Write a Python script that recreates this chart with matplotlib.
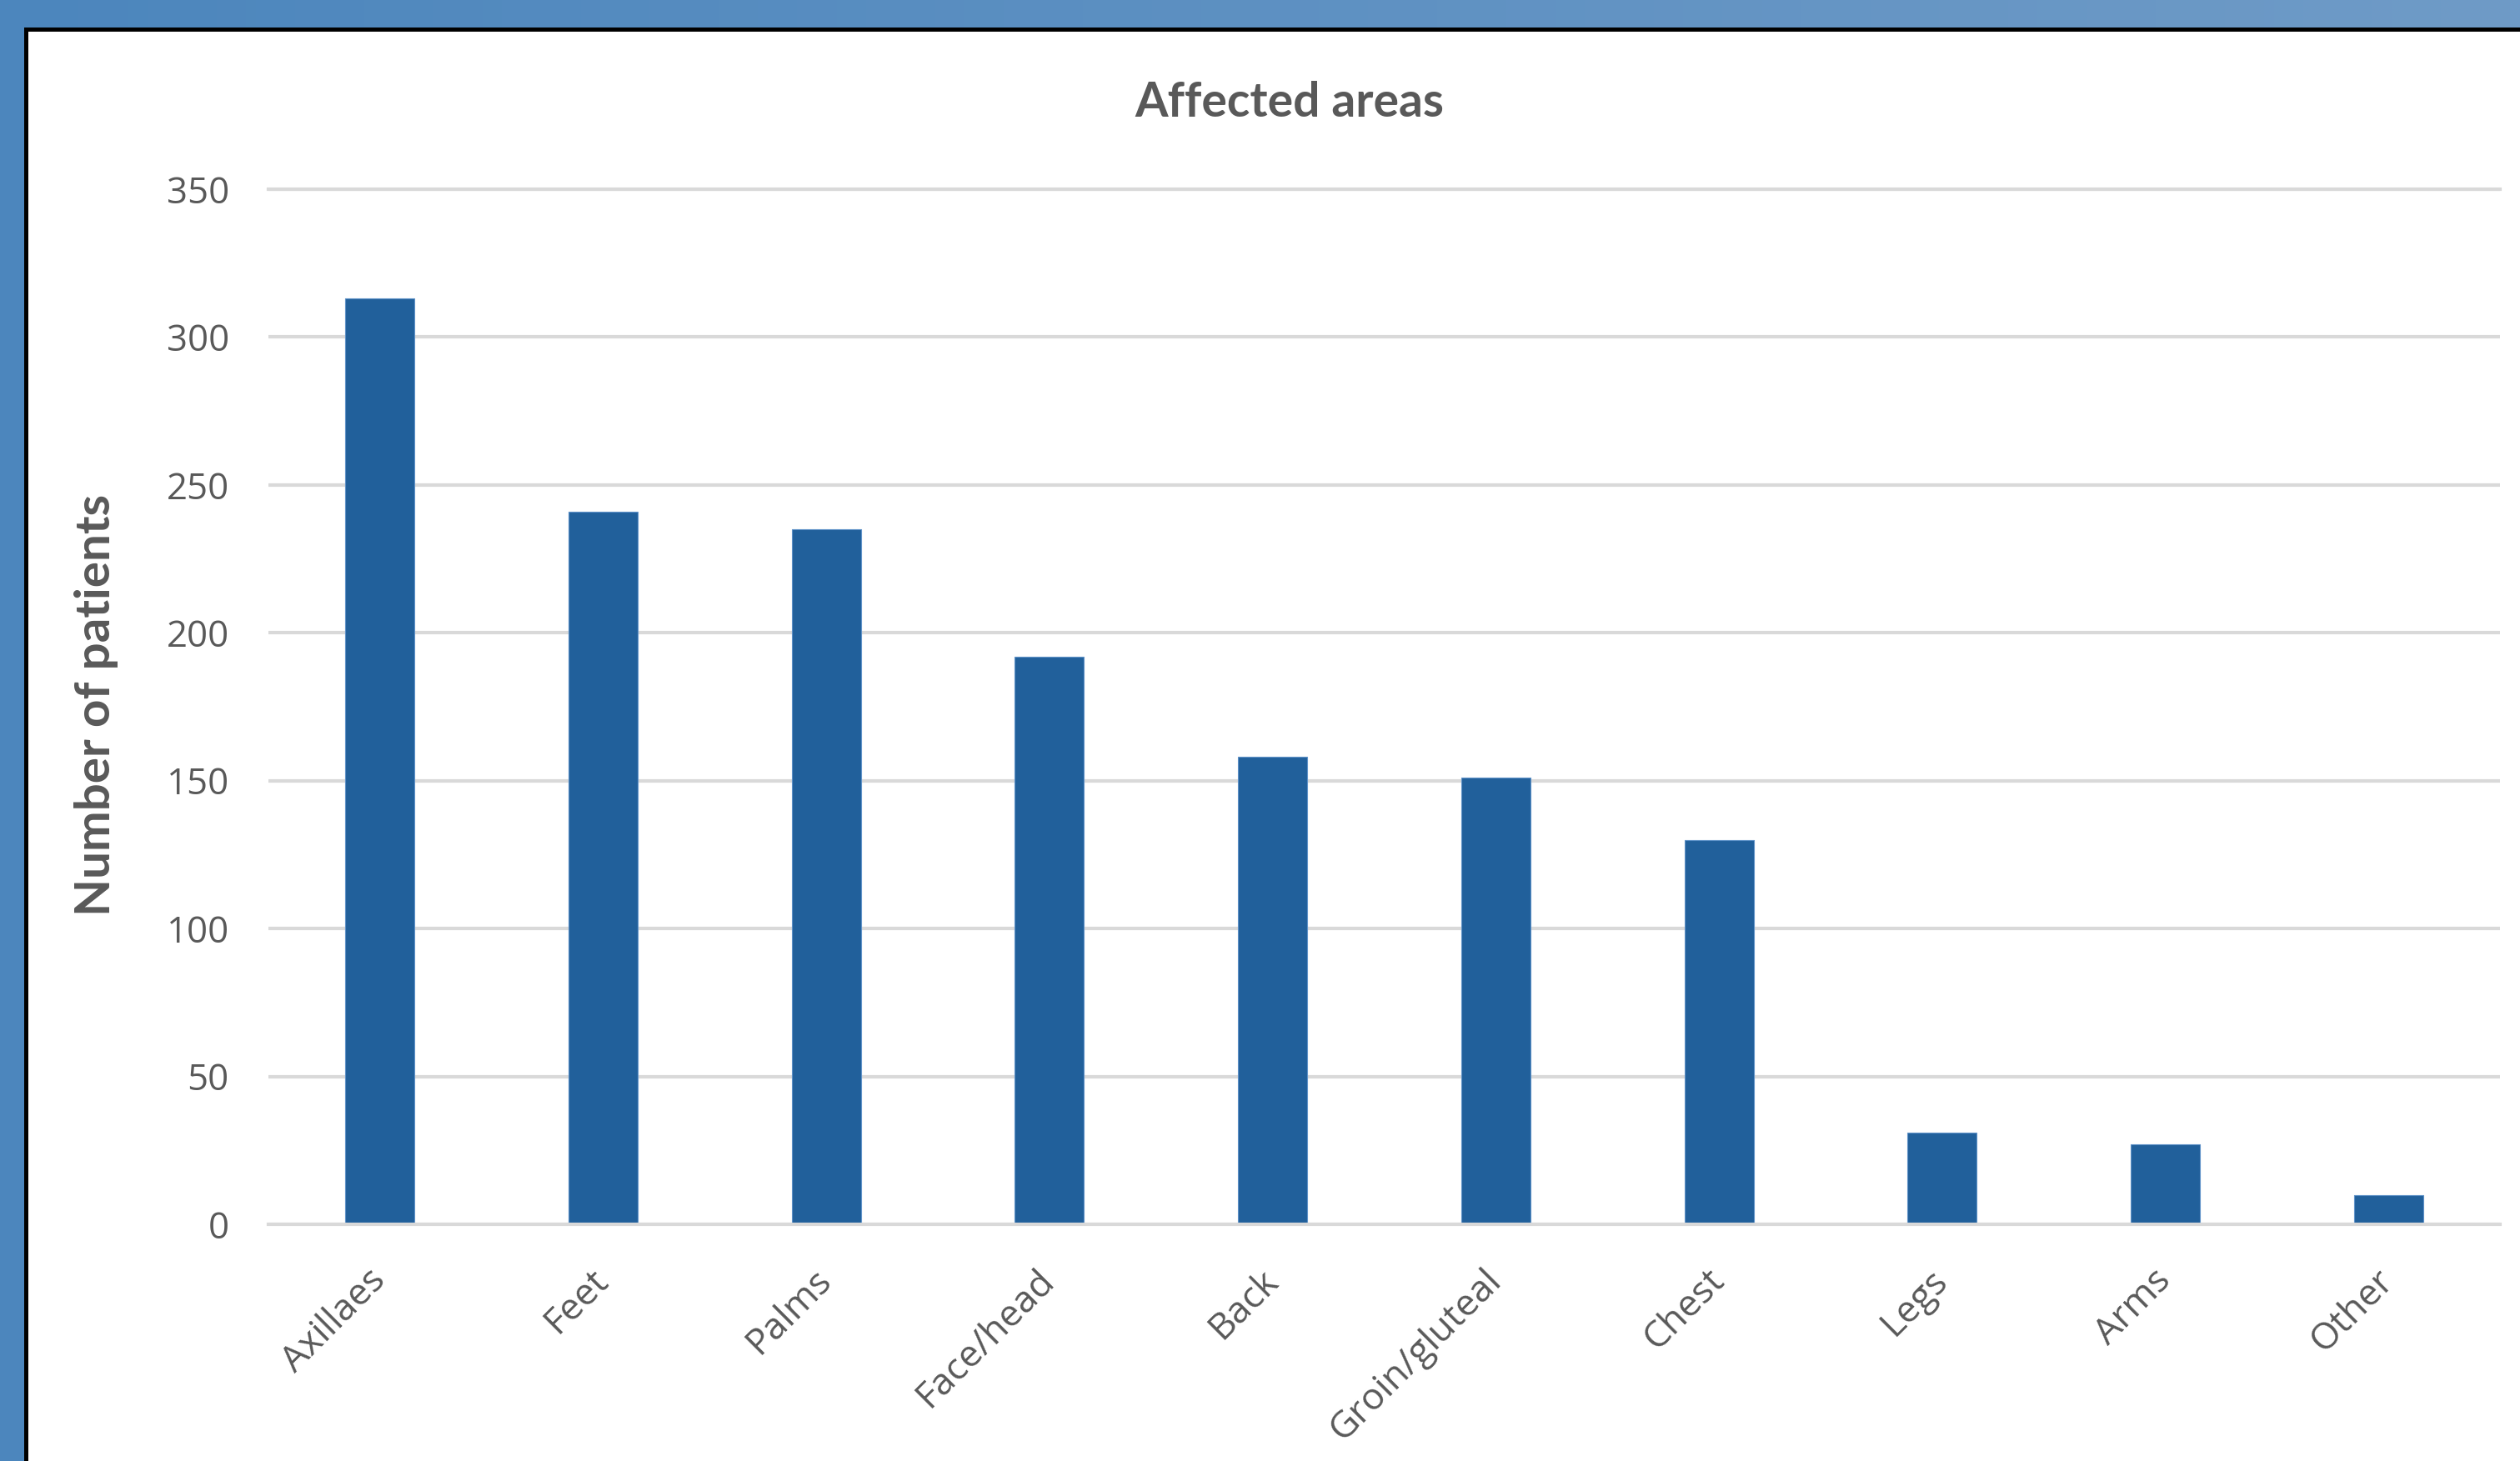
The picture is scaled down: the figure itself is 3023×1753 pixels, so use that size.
import numpy as np
import matplotlib
matplotlib.use("Agg")
import matplotlib.pyplot as plt
from matplotlib.patches import Rectangle

areas = ["Axillaes", "Feet", "Palms", "Face/head", "Back",
         "Groin/gluteal", "Chest", "Legs", "Arms", "Other"]
patients = [313, 241, 235, 192, 158, 151, 130, 31, 27, 10]
y_ticks = [0, 50, 100, 150, 200, 250, 300, 350]

TEXT_GREY = "#595959"
GRID_GREY = "#d9d9d9"
BAR_BLUE = "#21609b"

W, H = 3023, 1753
fig = plt.figure(figsize=(W / 100, H / 100), dpi=100)

# blue window frame behind the chart (screenshot border)
bg = fig.add_axes([0, 0, 1, 1])
grad = np.linspace(0, 1, 256).reshape(1, -1)
bg.imshow(grad, aspect="auto", extent=[0, 1, 0, 1],
          cmap=matplotlib.colors.LinearSegmentedColormap.from_list(
              "frame", ["#4c86bd", "#6f9bc7"]))
bg.set_xlim(0, 1)
bg.set_ylim(0, 1)
bg.axis("off")
bg.add_patch(Rectangle((29 / W, 0), 1, 1 - 33 / H, color="black", lw=0))
bg.add_patch(Rectangle((34 / W, 0), 1, 1 - 38 / H, color="white", lw=0))

ax = fig.add_axes([322 / W, 1 - 1469 / H, (2999 - 322) / W, (1469 - 227) / H])
ax.set_facecolor("none")
x = np.arange(len(areas))
ax.bar(x, patients, width=0.31, color=BAR_BLUE, edgecolor="#5f92c8",
       linewidth=0.8, zorder=2)

ax.set_xlim(-0.5, len(areas) - 0.5)
ax.set_ylim(0, 350)
ax.set_yticks(y_ticks)
ax.set_xticks(x)
ax.set_xticklabels(areas, rotation=45, ha="right", va="center",
                   rotation_mode="anchor")
ax.grid(axis="y", color=GRID_GREY, linewidth=3, zorder=0)
ax.set_axisbelow(True)
for side in ["left", "right"]:
    ax.spines[side].set_visible(False)
for side in ["top", "bottom"]:
    ax.spines[side].set_color(GRID_GREY)
    ax.spines[side].set_linewidth(3)
    ax.spines[side].set_zorder(3)

for lbl in ax.get_xticklabels() + ax.get_yticklabels():
    lbl.set_fontfamily("Open Sans")
ax.tick_params(axis="y", length=0, pad=34, labelsize=31.5, labelcolor=TEXT_GREY)
ax.tick_params(axis="x", length=0, pad=44, labelsize=32, labelcolor=TEXT_GREY)

fig.text(1547 / W, 1 - 140 / H, "Affected areas", ha="center", va="baseline",
         fontsize=41, fontweight="bold", color=TEXT_GREY, family="Lato")
fig.text(116 / W, 1 - 846 / H, "Number of patients", ha="center", va="center",
         rotation=90, fontsize=42, fontweight="bold", color=TEXT_GREY,
         family="Lato")

fig.savefig("out.png", dpi=100)
